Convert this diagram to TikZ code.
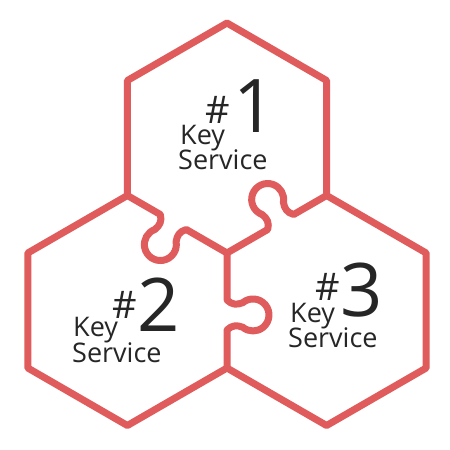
\documentclass[tikz,border=0pt]{standalone}
\usepackage{fontspec}
\setmainfont{Open Sans}
\usepackage{tikz}
\usepackage{xcolor}
\usetikzlibrary{calc}
\definecolor{HexRed}{HTML}{E05C5C}
\definecolor{InkGrey}{HTML}{262626}
\newcommand{\hexrad}{115}

\begin{document}
\begin{tikzpicture}[
    x=1pt, y=1pt,
    hexline/.style={HexRed, line width=7pt, line join=round, line cap=round},
    keytxt/.style={anchor=base west, inner sep=0pt, text=InkGrey,
                   font=\fontsize{27}{27}\selectfont},
    hashtxt/.style={anchor=base west, inner sep=0pt, text=InkGrey,
                    font=\fontsize{38}{38}\selectfont},
    numtxt/.style={anchor=base west, inner sep=0pt, text=InkGrey,
                   font=\fontsize{74}{74}\selectfont}
]
    \useasboundingbox[fill=white] (0,0) rectangle (450,450);

    % Hexagon centres around the inner junction
    \coordinate (J) at (227,197);
    \coordinate (T) at ($(J)+(90:\hexrad)$);
    \coordinate (L) at ($(J)+(210:\hexrad)$);
    \coordinate (R) at ($(J)+(-30:\hexrad)$);

    % Outer outline
    \draw[hexline]
        ($(T)+(210:\hexrad)$) -- ($(T)+(150:\hexrad)$) -- ($(T)+(90:\hexrad)$)
        -- ($(T)+(30:\hexrad)$) -- ($(T)+(-30:\hexrad)$)
        -- ($(R)+(30:\hexrad)$) -- ($(R)+(-30:\hexrad)$) -- ($(R)+(-90:\hexrad)$)
        -- ($(R)+(-150:\hexrad)$)
        -- ($(L)+(-90:\hexrad)$) -- ($(L)+(-150:\hexrad)$) -- ($(L)+(150:\hexrad)$)
        -- cycle;

    % Shared edges with puzzle tabs
    \foreach \ang in {150,30,-90}
        \draw[hexline, shift={(J)}, rotate=\ang]
            (0,0) -- (47,0) .. controls (52,5) and (52,10) .. (49.7,15.7)
            arc[start angle=220, end angle=-40, radius=16pt]
            .. controls (72,10) and (72,5) .. (77,0) -- (\hexrad,0);

    % Labels
    \node[keytxt] (key1) at (180,305) {Key};
    \node[keytxt] (svc1) at (178,280) {Service};
    \node[hashtxt] (hash1) at (205,326) {\#};
    \node[numtxt] (num1) at (233,317) {1};

    \node[keytxt] (key2) at (73,113) {Key};
    \node[keytxt] (svc2) at (72,87) {Service};
    \node[hashtxt] (hash2) at (112,131) {\#};
    \node[numtxt] (num2) at (137,118) {2};

    \node[keytxt] (key3) at (290,127) {Key};
    \node[keytxt] (svc3) at (288,102) {Service};
    \node[hashtxt] (hash3) at (315,149) {\#};
    \node[numtxt] (num3) at (340,133) {3};
\end{tikzpicture}
\end{document}
